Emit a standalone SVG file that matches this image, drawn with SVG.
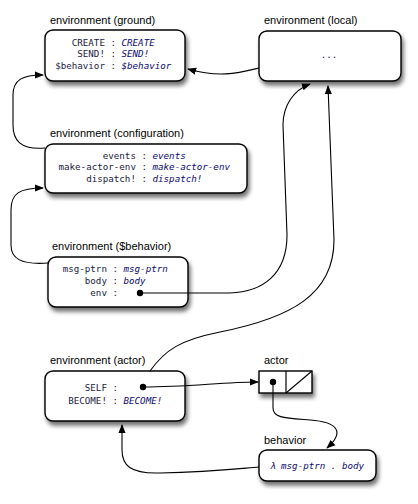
<svg xmlns="http://www.w3.org/2000/svg" width="418" height="504" viewBox="0 0 418 504">
<style>
.box{fill:#fff;stroke:#000;stroke-width:1.4;filter:url(#sh)}
.lbl{font-family:"Liberation Sans",Arial,sans-serif;font-size:11px;fill:#000}
.k{font-family:"DejaVu Sans Mono",monospace;font-size:9.2px;fill:#1a1a40;text-anchor:end}
.v{font-family:"DejaVu Sans Mono",monospace;font-size:9.2px;fill:#0a0a70;font-style:italic}
.c{fill:none;stroke:#000;stroke-width:1.1}
.a{marker-end:url(#ah)}
</style>
<defs>
<filter id="sh" x="-20%" y="-20%" width="140%" height="160%">
<feDropShadow dx="2" dy="4" stdDeviation="2.2" flood-color="#000" flood-opacity="0.55"/>
</filter>
<marker id="ah" viewBox="0 0 10 10" refX="9" refY="5" markerWidth="9" markerHeight="9" markerUnits="userSpaceOnUse" orient="auto">
<path d="M0,1 L10,5 L0,9 z" fill="#000"/>
</marker>
</defs>

<g id="ground">
<rect class="box" x="45" y="30" width="140" height="51" rx="8"/>
<text class="lbl" x="50" y="24">environment (ground)</text>
<text class="k" x="116" y="45.5">CREATE :</text><text class="v" x="121.5" y="45.5">CREATE</text>
<text class="k" x="116" y="57">SEND! :</text><text class="v" x="121.5" y="57">SEND!</text>
<text class="k" x="116" y="68.5">$behavior :</text><text class="v" x="121.5" y="68.5">$behavior</text>
</g>

<g id="local">
<rect class="box" x="259" y="31" width="142" height="50" rx="8"/>
<text class="lbl" x="264" y="24">environment (local)</text>
<text class="k" x="329" y="58" style="text-anchor:middle">...</text>
</g>

<g id="configuration">
<rect class="box" x="45" y="144" width="202" height="49" rx="8"/>
<text class="lbl" x="50" y="137">environment (configuration)</text>
<text class="k" x="147" y="158.5">events :</text><text class="v" x="152.5" y="158.5">events</text>
<text class="k" x="147" y="170">make-actor-env :</text><text class="v" x="152.5" y="170">make-actor-env</text>
<text class="k" x="147" y="182">dispatch! :</text><text class="v" x="152.5" y="182">dispatch!</text>
</g>

<g id="behavior-env">
<rect class="box" x="48" y="257" width="140" height="50" rx="8"/>
<text class="lbl" x="52" y="250">environment ($behavior)</text>
<text class="k" x="118" y="271.5">msg-ptrn :</text><text class="v" x="123.5" y="271.5">msg-ptrn</text>
<text class="k" x="118" y="283.5">body :</text><text class="v" x="123.5" y="283.5">body</text>
<text class="k" x="118" y="296">env :</text>
<circle cx="140" cy="293" r="3.2" fill="#000"/>
</g>

<g id="actor-env">
<rect class="box" x="45" y="371" width="140" height="50" rx="8"/>
<text class="lbl" x="50" y="364">environment (actor)</text>
<text class="k" x="118" y="390.5">SELF :</text>
<text class="k" x="118" y="403.5">BECOME! :</text><text class="v" x="123.5" y="403.5">BECOME!</text>
<circle cx="143" cy="387" r="3.2" fill="#000"/>
</g>

<g id="actor">
<rect class="box" x="259" y="371" width="53" height="22"/>
<line x1="286" y1="371" x2="286" y2="393" stroke="#000" stroke-width="1.2"/>
<line x1="286" y1="393" x2="312" y2="371" stroke="#000" stroke-width="1.1"/>
<circle cx="273" cy="382" r="3.2" fill="#000"/>
<text class="lbl" x="264" y="364">actor</text>
</g>

<g id="behavior">
<rect class="box" x="259" y="450" width="117" height="31" rx="8"/>
<text class="lbl" x="264" y="444">behavior</text>
<text class="v" x="317" y="468.5" style="text-anchor:middle">λ msg-ptrn . body</text>
</g>

<g id="connectors">
<path class="c a" d="M259,68 C238,73 220,78 188,69"/>
<path class="c a" d="M45,148 C20,150 13,140 13,125 L13,95 C13,80 22,75 43,75"/>
<path class="c a" d="M48,263 C20,265 11,258 11,245 L11,210 C11,193 20,188 43,188"/>
<path class="c a" d="M140,293 L230,293 C262,292 287,275 287,235 L283,125 C283,105 294,90 310,84"/>
<path class="c a" d="M150,371 C165,350 180,340 220,332 C290,318 334,295 334,240 L328,86"/>
<path class="c a" d="M143,387 C190,387 222,382 258,382"/>
<path class="c a" d="M273,382 L273,408 C273,418 285,418 310,420 C338,422 345,432 327,448"/>
<path class="c a" d="M259,467 C235,469 210,472 160,473 C130,474 122,465 122,450 L122,425"/>
</g>
</svg>
